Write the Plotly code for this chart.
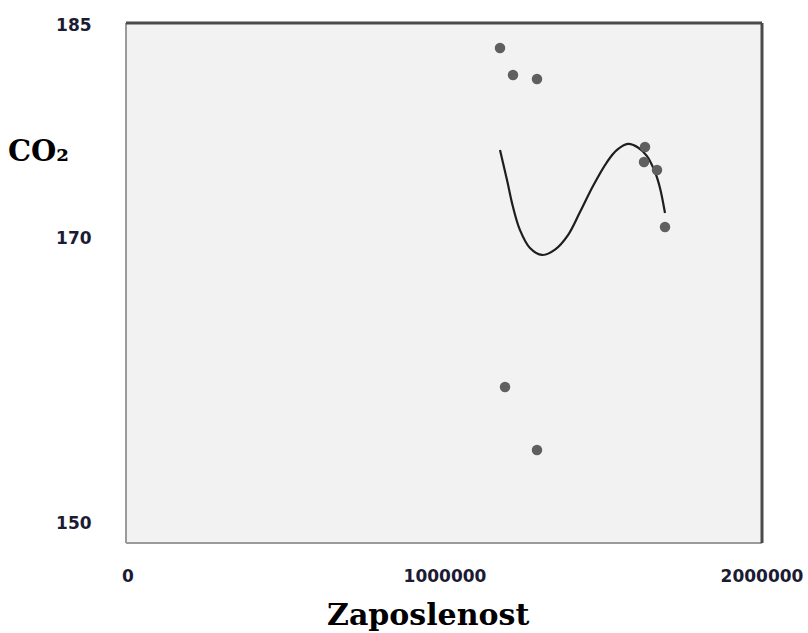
import plotly.graph_objects as go

# Scatter data (employment vs CO2)
emp_points = [1173500, 1214500, 1290200, 1630900, 1627800, 1668800, 1694000, 1189300, 1290200]
co2_points = [183.38, 181.49, 181.21, 176.43, 175.37, 174.81, 170.80, 159.56, 155.13]

# Polynomial trend line
trend_x = [1173500, 1195600, 1214500, 1236600, 1268100, 1306000, 1347000, 1388000,
           1425900, 1466900, 1511000, 1542600, 1577300, 1608800, 1637200, 1662500,
           1678200, 1694000]
trend_y = [176.22, 174.11, 172.21, 170.59, 169.33, 168.84, 169.22, 170.24,
           171.86, 173.69, 175.37, 176.22, 176.64, 176.39, 175.79, 174.67,
           173.55, 171.79]

x_ticks = [0, 1000000, 2000000]
x_ticktext = ["0", "1000000", "2000000"]
y_ticks = [150, 170, 185]
y_ticktext = ["150", "170", "185"]

x_title = "Zaposlenost"
y_title = "CO₂"

fig = go.Figure()
fig.add_trace(go.Scatter(x=trend_x, y=trend_y, mode="lines",
                         line=dict(color="#1e1e1e", width=2.2, shape="spline", smoothing=1.0),
                         hoverinfo="skip", showlegend=False))
fig.add_trace(go.Scatter(x=emp_points, y=co2_points, mode="markers",
                         marker=dict(color="#5f5f5f", size=10.5, line=dict(width=0)), showlegend=False))

tick_font = dict(family="DejaVu Sans", size=17, color="#1b1b33", weight="bold")

fig.update_layout(
    width=808, height=633,
    margin=dict(l=126, r=46, t=23, b=90),
    paper_bgcolor="white",
    plot_bgcolor="#f2f2f2",
    xaxis=dict(range=[-6309, 2000000], tickvals=x_ticks, ticktext=x_ticktext,
               showgrid=False, zeroline=False, showline=False, automargin=False,
               ticks="outside", ticklen=18, tickcolor="rgba(0,0,0,0)",
               tickfont=tick_font),
    yaxis=dict(range=[148.60, 185.14], tickvals=y_ticks, ticktext=y_ticktext,
               showgrid=False, zeroline=False, showline=False, automargin=False,
               ticks="outside", ticklen=30, tickcolor="rgba(0,0,0,0)",
               tickfont=tick_font),
    shapes=[
        # left and bottom borders (lighter)
        dict(type="line", xref="paper", yref="paper", x0=0, x1=0, y0=0, y1=1, line=dict(color="#9a9a9a", width=2)),
        dict(type="line", xref="paper", yref="paper", x0=0, x1=1, y0=0, y1=0, line=dict(color="#9a9a9a", width=2)),
        # top and right borders (darker)
        dict(type="line", xref="paper", yref="paper", x0=0, x1=1, y0=1, y1=1, line=dict(color="#4a4a4a", width=3)),
        dict(type="line", xref="paper", yref="paper", x0=1, x1=1, y0=0, y1=1, line=dict(color="#4a4a4a", width=3)),
    ],
    annotations=[
        dict(text=y_title, xref="paper", yref="paper", x=-0.138, y=0.754, xanchor="center", yanchor="middle",
             showarrow=False, font=dict(family="DejaVu Serif", size=29, color="black", weight="bold")),
        dict(text=x_title, xref="paper", yref="paper", x=0.475, y=-0.138, xanchor="center", yanchor="middle",
             showarrow=False, font=dict(family="DejaVu Serif", size=30, color="black", weight="bold")),
    ],
)

fig.write_html("out.html")
